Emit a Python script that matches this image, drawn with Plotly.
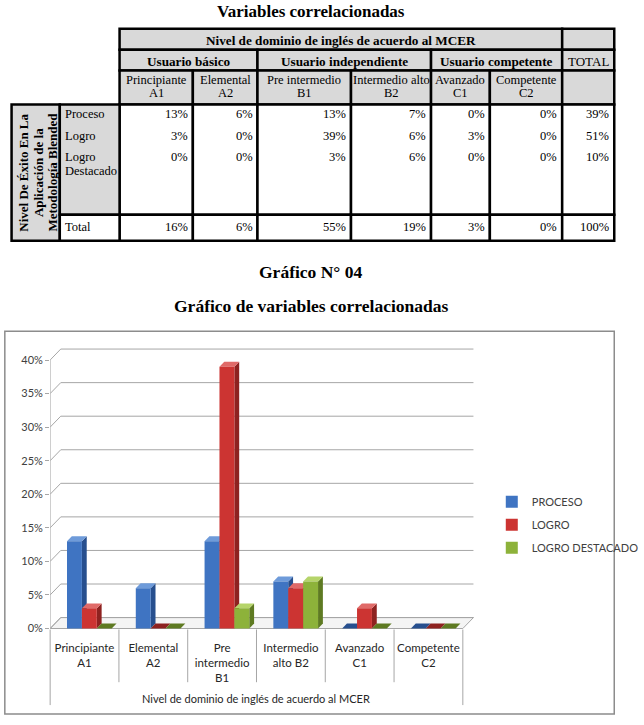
import plotly.graph_objects as go

W, H = 644, 725
SERIF = "Liberation Serif"
SANS = "Lato"

# ---------------- data ----------------
categories = ["Principiante<br>A1", "Elemental<br>A2", "Pre<br>intermedio<br>B1",
              "Intermedio<br>alto B2", "Avanzado<br>C1", "Competente<br>C2"]
series_names = ["PROCESO", "LOGRO", "LOGRO DESTACADO"]
proceso = [13, 6, 13, 7, 0, 0]
logro = [3, 0, 39, 6, 3, 0]
logro_destacado = [0, 0, 3, 7, 0, 0]
y_ticks = [0, 5, 10, 15, 20, 25, 30, 35, 40]

# table data
tbl_groups = ["Usuario básico", "Usuario independiente", "Usuario competente"]
tbl_subcats = [["Principiante", "A1"], ["Elemental", "A2"], ["Pre intermedio", "B1"],
               ["Intermedio alto", "B2"], ["Avanzado", "C1"], ["Competente", "C2"]]
tbl_rows = ["Proceso", "Logro", "Logro Destacado", "Total"]
tbl_proceso = [13, 6, 13, 7, 0, 0, 39]
tbl_logro = [3, 0, 39, 6, 3, 0, 51]
tbl_logro_dest = [0, 0, 3, 6, 0, 0, 10]
tbl_total = [16, 6, 55, 19, 3, 0, 100]

front_colors = ["#3F74C2", "#CC3432", "#8DB23A"]
side_colors = ["#274F8E", "#8E2220", "#5E7A22"]
top_colors = ["#6E9BDA", "#E06A68", "#B5D46A"]


def P(px):
    return px / W


def Q(py):
    return 1 - py / H


shapes = []
annotations = []


def rect(x0, y0, x1, y1, fill, lw=2.5, color="black", layer="above"):
    shapes.append(dict(type="rect", xref="paper", yref="paper", x0=P(x0), x1=P(x1),
                       y0=Q(y1), y1=Q(y0), fillcolor=fill,
                       line=dict(color=color, width=lw), layer=layer))


def text(t, px, py, size=12.5, family=SERIF, xanchor="center", yanchor="middle",
         angle=0, color="black"):
    annotations.append(dict(text=t, x=P(px), y=Q(py), xref="paper", yref="paper",
                            showarrow=False, xanchor=xanchor, yanchor=yanchor,
                            textangle=angle, font=dict(family=family, size=size, color=color)))


# ---------------- titles ----------------
text("<b>Variables correlacionadas</b>", 322, 0, size=17, yanchor="top")
text("<b>Gráfico N° 04</b>", 322, 274, size=17.5)
text("<b>Gráfico de variables correlacionadas</b>", 322, 308, size=17.5)

# ---------------- table ----------------
GRAY = "#D9D9D9"
cx = [124, 200, 267, 364, 447, 508, 583, 637]
r0, r1, r2, r3, r4, r5 = 29, 50, 71, 105, 216, 242
lx = [12, 62, 124]

rect(cx[0], r0, cx[6], r1, GRAY)
rect(cx[6], r0, cx[7], r1, GRAY)
text("<b>Nivel de dominio de inglés de acuerdo al MCER</b>", (cx[0] + cx[6]) / 2, (r0 + r1) / 2 + 1, size=13.2)
grp_bounds = [(cx[0], cx[2]), (cx[2], cx[4]), (cx[4], cx[6])]
for g, (a, b) in zip(tbl_groups, grp_bounds):
    rect(a, r1, b, r2, GRAY)
    text("<b>" + g + "</b>", (a + b) / 2, (r1 + r2) / 2 + 1, size=13.2)
rect(cx[6], r1, cx[7], r2, GRAY)
text("TOTAL", (cx[6] + cx[7]) / 2, (r1 + r2) / 2 + 1, size=13)
for j, (l1, l2) in enumerate(tbl_subcats):
    rect(cx[j], r2, cx[j + 1], r3, GRAY)
    text(l1, (cx[j] + cx[j + 1]) / 2, 80, size=12.5)
    text(l2, (cx[j] + cx[j + 1]) / 2, 94, size=12.5)
rect(cx[6], r2, cx[7], r3, GRAY)

# body
body_rows = [tbl_proceso, tbl_logro, tbl_logro_dest]
row_y = [115, 137, 158]
for j in range(7):
    rect(cx[j], r3, cx[j + 1], r4, "white")
    rect(cx[j], r4, cx[j + 1], r5, "white")
    for vals, yy in zip(body_rows, row_y):
        text(f"{vals[j]}%", cx[j + 1] - 3, yy, xanchor="right")
    text(f"{tbl_total[j]}%", cx[j + 1] - 3, 228, xanchor="right")

rect(lx[0], r3, lx[1], r5, GRAY)
rect(lx[1], r3, lx[2], r4, GRAY)
rect(lx[1], r4, lx[2], r5, "white")
for t, xx in zip(["Nivel De Éxito En La", "Aplicación de la", "Metodología Blended"], [24, 40, 55]):
    text("<b>" + t + "</b>", xx, (r3 + r5) / 2, size=13, angle=-90)
text(tbl_rows[0], 65, 115, xanchor="left")
text(tbl_rows[1], 65, 137, xanchor="left")
text("Logro", 65, 158, xanchor="left")
text("Destacado", 65, 172, xanchor="left")
text(tbl_rows[3], 65, 228, xanchor="left")

# ---------------- chart geometry ----------------
FR_X0, FR_Y0, FR_X1, FR_Y1 = 5, 333, 637, 718
rect(FR_X0, FR_Y0, FR_X1, FR_Y1, "rgba(0,0,0,0)", lw=1.5, color="#8C8C8C", layer="below")

PX_LEFT = 52          # pixel of x=-0.5
PPU_X = 71.33          # pixels per category
PX_RIGHT_DOM = 494
Y0_PX = 632            # pixel of y=0
PPU_Y = 675            # pixels per unit (1 = 100%)
DOM_TOP, DOM_BOT = 344, 634

x_range = [-0.5, -0.5 + (PX_RIGHT_DOM - PX_LEFT) / PPU_X]
y_range = [-(DOM_BOT - Y0_PX) / PPU_Y, (Y0_PX - DOM_TOP) / PPU_Y]

DXW, DYW = 11 / PPU_X, 11 / PPU_Y     # back wall depth
DXB, DYB = 5 / PPU_X, 5 / PPU_Y       # bar depth
SHIFT = 5 / PPU_X
BARGAP = 0.35
BW = (1 - BARGAP) / 3

n = len(categories)
xs = list(range(n))

# floor
shapes.append(dict(type="path", xref="x", yref="y", layer="below",
                   path=f"M -0.5,0 L {n - 0.5},0 L {n - 0.5 + DXW},{DYW} L {-0.5 + DXW},{DYW} Z",
                   fillcolor="#F4F4F4", line=dict(color="#A6A6A6", width=1)))
# back-wall gridlines
for t in y_ticks:
    v = t / 100
    shapes.append(dict(type="path", xref="x", yref="y", layer="below",
                       path=f"M -0.5,{v} L {-0.5 + DXW},{v + DYW} L {n - 0.5 + DXW},{v + DYW}",
                       line=dict(color="#A6A6A6", width=1)))
shapes.append(dict(type="line", xref="x", yref="y", layer="below",
                   x0=-0.5, x1=-0.5, y0=0, y1=y_ticks[-1] / 100,
                   line=dict(color="#A6A6A6", width=1)))

fig = go.Figure()
all_vals = [proceso, logro, logro_destacado]
for s, (name, vals) in enumerate(zip(series_names, all_vals)):
    fig.add_trace(go.Bar(
        x=[i + SHIFT for i in xs], y=[v / 100 for v in vals], name=name,
        legendgroup=name,
        marker=dict(color=front_colors[s], line=dict(width=0)),
        hoverinfo="skip"))
    for i, v in enumerate(vals):
        val = v / 100
        c = i + SHIFT + (s - 1) * BW
        xl, xr = c - BW / 2, c + BW / 2
        # right side face
        if val > 0:
            shapes.append(dict(type="path", xref="x", yref="y", layer="between",
                               path=f"M {xr},0 L {xr + DXB},{DYB} L {xr + DXB},{val + DYB} L {xr},{val} Z",
                               fillcolor=side_colors[s], line=dict(width=0)))
        # top face
        shapes.append(dict(type="path", xref="x", yref="y", layer="between",
                           path=f"M {xl},{val} L {xl + DXB},{val + DYB} L {xr + DXB},{val + DYB} L {xr},{val} Z",
                           fillcolor=top_colors[s] if val > 0 else side_colors[s], line=dict(width=0)))

# category boxes below the axis
def xp(xd):
    return PX_LEFT + (xd + 0.5) * PPU_X

for k in range(1, n):
    shapes.append(dict(type="line", xref="paper", yref="paper",
                       x0=P(xp(k - 0.5)), x1=P(xp(k - 0.5)), y0=Q(633), y1=Q(686),
                       line=dict(color="#A6A6A6", width=1)))
for xd in (-0.5, n - 0.5):
    shapes.append(dict(type="line", xref="paper", yref="paper",
                       x0=P(xp(xd)), x1=P(xp(xd)), y0=Q(633), y1=Q(709),
                       line=dict(color="#A6A6A6", width=1)))

text("Nivel de dominio de inglés de acuerdo al MCER", (xp(-0.5) + xp(n - 0.5)) / 2, 702,
     size=11, family=SANS, color="#262626")

fig.update_layout(
    width=W, height=H, margin=dict(l=0, r=0, t=0, b=0),
    paper_bgcolor="white", plot_bgcolor="rgba(0,0,0,0)",
    barmode="group", bargap=BARGAP, bargroupgap=0,
    shapes=shapes, annotations=annotations,
    showlegend=True,
    legend=dict(x=P(510), y=Q(490), xanchor="left", yanchor="top",
                font=dict(family=SANS, size=11, color="#404040"),
                tracegroupgap=4, itemwidth=30, bgcolor="rgba(0,0,0,0)"),
    xaxis=dict(domain=[P(PX_LEFT), P(PX_RIGHT_DOM)], range=x_range,
               tickvals=xs, ticktext=categories, showgrid=False, zeroline=False,
               showline=False, ticks="", ticklabelstandoff=9,
               tickfont=dict(family=SANS, size=11.5, color="#262626")),
    yaxis=dict(domain=[Q(DOM_BOT), Q(DOM_TOP)], range=y_range,
               tickvals=[t / 100 for t in y_ticks], ticktext=[f"{t}%" for t in y_ticks],
               showgrid=False, zeroline=False, showline=False,
               ticks="outside", ticklen=4, tickcolor="#A6A6A6",
               tickfont=dict(family=SANS, size=11, color="#404040")),
)

fig.write_html("out.html")
